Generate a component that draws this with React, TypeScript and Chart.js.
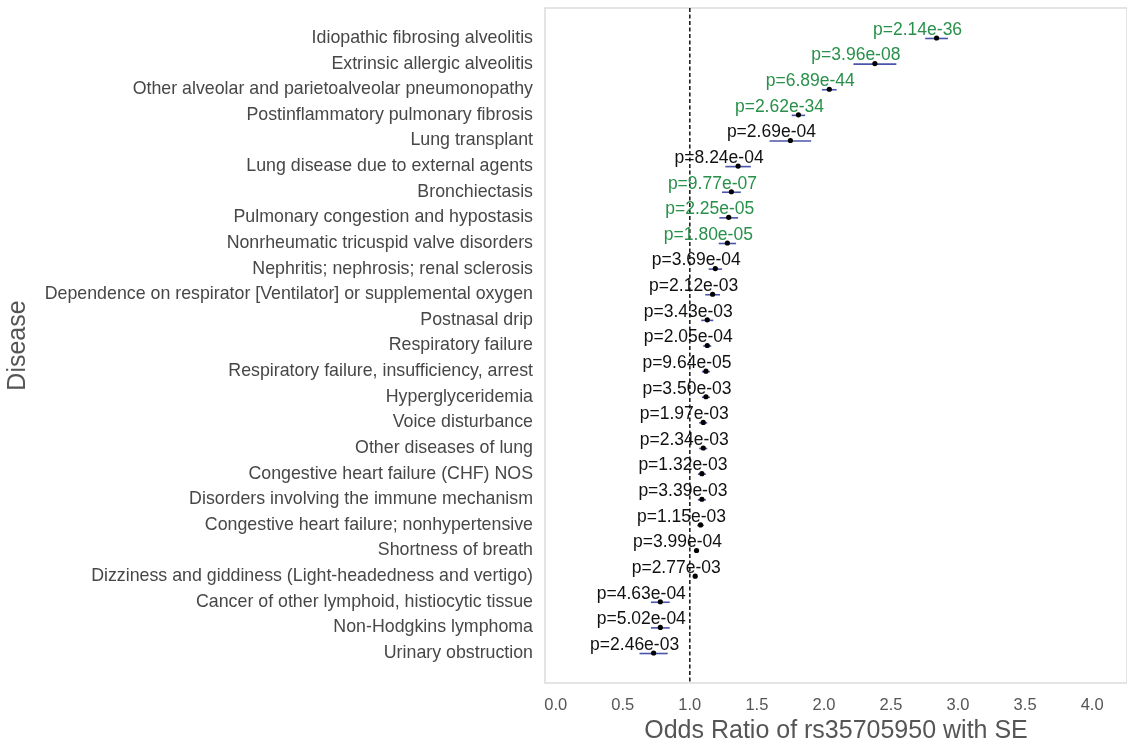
import React, { useEffect, useRef } from "react";
import { Chart, registerables } from "chart.js";

Chart.register(...registerables);

const diseases: string[] = [
  "Idiopathic fibrosing alveolitis",
  "Extrinsic allergic alveolitis",
  "Other alveolar and parietoalveolar pneumonopathy",
  "Postinflammatory pulmonary fibrosis",
  "Lung transplant",
  "Lung disease due to external agents",
  "Bronchiectasis",
  "Pulmonary congestion and hypostasis",
  "Nonrheumatic tricuspid valve disorders",
  "Nephritis; nephrosis; renal sclerosis",
  "Dependence on respirator [Ventilator] or supplemental oxygen",
  "Postnasal drip",
  "Respiratory failure",
  "Respiratory failure, insufficiency, arrest",
  "Hyperglyceridemia",
  "Voice disturbance",
  "Other diseases of lung",
  "Congestive heart failure (CHF) NOS",
  "Disorders involving the immune mechanism",
  "Congestive heart failure; nonhypertensive",
  "Shortness of breath",
  "Dizziness and giddiness (Light-headedness and vertigo)",
  "Cancer of other lymphoid, histiocytic tissue",
  "Non-Hodgkins lymphoma",
  "Urinary obstruction",
];

const oddsRatios: number[] = [
  2.84, 2.38, 2.04, 1.81, 1.75, 1.36, 1.31, 1.29, 1.28, 1.19, 1.17, 1.13, 1.13,
  1.12, 1.12, 1.1, 1.1, 1.09, 1.09, 1.08, 1.05, 1.04, 0.78, 0.78, 0.73,
];

const stdErrors: number[] = [
  0.085, 0.16, 0.055, 0.05, 0.155, 0.095, 0.07, 0.07, 0.065, 0.05, 0.055, 0.045,
  0.03, 0.03, 0.03, 0.03, 0.03, 0.03, 0.03, 0.025, 0.01, 0.01, 0.07, 0.07, 0.105,
];

const pValues: string[] = [
  "2.14e-36", "3.96e-08", "6.89e-44", "2.62e-34", "2.69e-04", "8.24e-04",
  "9.77e-07", "2.25e-05", "1.80e-05", "3.69e-04", "2.12e-03", "3.43e-03",
  "2.05e-04", "9.64e-05", "3.50e-03", "1.97e-03", "2.34e-03", "1.32e-03",
  "3.39e-03", "1.15e-03", "3.99e-04", "2.77e-03", "4.63e-04", "5.02e-04",
  "2.46e-03",
];

const xTickValues: number[] = [0, 0.5, 1, 1.5, 2, 2.5, 3, 3.5, 4];

const SIG_THRESHOLD = 5e-5;
const GREEN = "#28904a";
const BAR_COLOR = "#4a54a8";
const FONT = "'Liberation Sans', Arial, Helvetica, sans-serif";

const overlayPlugin = {
  id: "forestOverlay",
  beforeDatasetsDraw(chart: any) {
    const { ctx, chartArea, scales } = chart;
    const xs = scales.x;
    const ys = scales.y;
    ctx.save();
    ctx.strokeStyle = "#dcdcdc";
    ctx.lineWidth = 1.5;
    ctx.strokeRect(chartArea.left, chartArea.top, chartArea.right - chartArea.left, chartArea.bottom - chartArea.top);
    ctx.strokeStyle = BAR_COLOR;
    ctx.lineWidth = 1.6;
    oddsRatios.forEach((or, i) => {
      const y = ys.getPixelForValue(i) + 0.5;
      ctx.beginPath();
      ctx.moveTo(xs.getPixelForValue(or - stdErrors[i]), y);
      ctx.lineTo(xs.getPixelForValue(or + stdErrors[i]), y);
      ctx.stroke();
    });
    ctx.restore();
  },
  afterDatasetsDraw(chart: any) {
    const { ctx, scales } = chart;
    const xs = scales.x;
    const ys = scales.y;
    ctx.save();
    ctx.font = `17.5px ${FONT}`;
    ctx.textAlign = "center";
    ctx.textBaseline = "middle";
    oddsRatios.forEach((or, i) => {
      const p = parseFloat(pValues[i]);
      ctx.fillStyle = p < SIG_THRESHOLD ? GREEN : "#111111";
      ctx.fillText(`p=${pValues[i]}`, xs.getPixelForValue(or) - 19, ys.getPixelForValue(i) - 8);
    });
    ctx.restore();
  },
};

export default function App() {
  const canvasRef = useRef<HTMLCanvasElement | null>(null);

  useEffect(() => {
    if (!canvasRef.current) return;
    const rowMin = -1.17;
    const rowMax = diseases.length - 1 + 1.17;
    const chart = new Chart(canvasRef.current, {
      type: "scatter",
      data: {
        datasets: [
          {
            label: "OR",
            data: oddsRatios.map((v, i) => ({ x: v, y: i })),
            backgroundColor: "#000000",
            borderColor: "#000000",
            pointRadius: 2.6,
            pointBorderWidth: 0,
            order: 1,
          },
          {
            label: "ref",
            type: "line",
            data: [
              { x: 1, y: rowMin },
              { x: 1, y: rowMax },
            ],
            borderColor: "#000000",
            borderWidth: 1.4,
            borderDash: [4, 2.5],
            pointRadius: 0,
            showLine: true,
            order: 2,
          } as any,
        ],
      },
      options: {
        animation: false,
        responsive: false,
        maintainAspectRatio: false,
        layout: { padding: { left: 0, right: 0, top: 8, bottom: 0 } },
        plugins: {
          legend: { display: false },
          tooltip: { enabled: false },
        },
        scales: {
          x: {
            type: "linear",
            min: -0.08,
            max: 4.26,
            grid: { display: false, drawTicks: false },
            border: { display: false },
            afterBuildTicks: (axis: any) => {
              axis.ticks = xTickValues.map((v) => ({ value: v }));
            },
            afterFit: (axis: any) => {
              axis.height = 59;
              axis.paddingLeft = 0;
              axis.paddingRight = 0;
            },
            ticks: {
              autoSkip: false,
              maxRotation: 0,
              padding: 13,
              color: "#555555",
              font: { family: FONT, size: 16.5 },
              callback: (v: any) => Number(v).toFixed(1),
            },
            title: {
              display: true,
              text: "Odds Ratio of rs35705950 with SE",
              color: "#555555",
              font: { family: FONT, size: 25 },
              padding: { top: 0, bottom: -4 },
            },
          },
          y: {
            type: "linear",
            reverse: true,
            min: rowMin,
            max: rowMax,
            grid: { display: false, drawTicks: false },
            border: { display: false },
            afterBuildTicks: (axis: any) => {
              axis.ticks = diseases.map((_, i) => ({ value: i }));
            },
            afterFit: (axis: any) => {
              axis.width = 545;
              axis.paddingTop = 0;
              axis.paddingBottom = 0;
            },
            ticks: {
              autoSkip: false,
              padding: 12,
              color: "#474747",
              font: { family: FONT, size: 17.8 },
              callback: (v: any) => diseases[Number(v)] ?? "",
            },
            title: {
              display: true,
              text: "Disease",
              color: "#555555",
              font: { family: FONT, size: 25 },
              padding: { top: 3, bottom: 0 },
            },
          },
        },
      },
      plugins: [overlayPlugin],
    });
    return () => chart.destroy();
  }, []);

  return (
    <div style={{ position: "fixed", left: 0, top: 0, width: 1127, height: 742, overflow: "hidden", background: "#ffffff" }}>
      <canvas ref={canvasRef} width={1131} height={742} style={{ width: 1131, height: 742, display: "block" }} />
    </div>
  );
}
